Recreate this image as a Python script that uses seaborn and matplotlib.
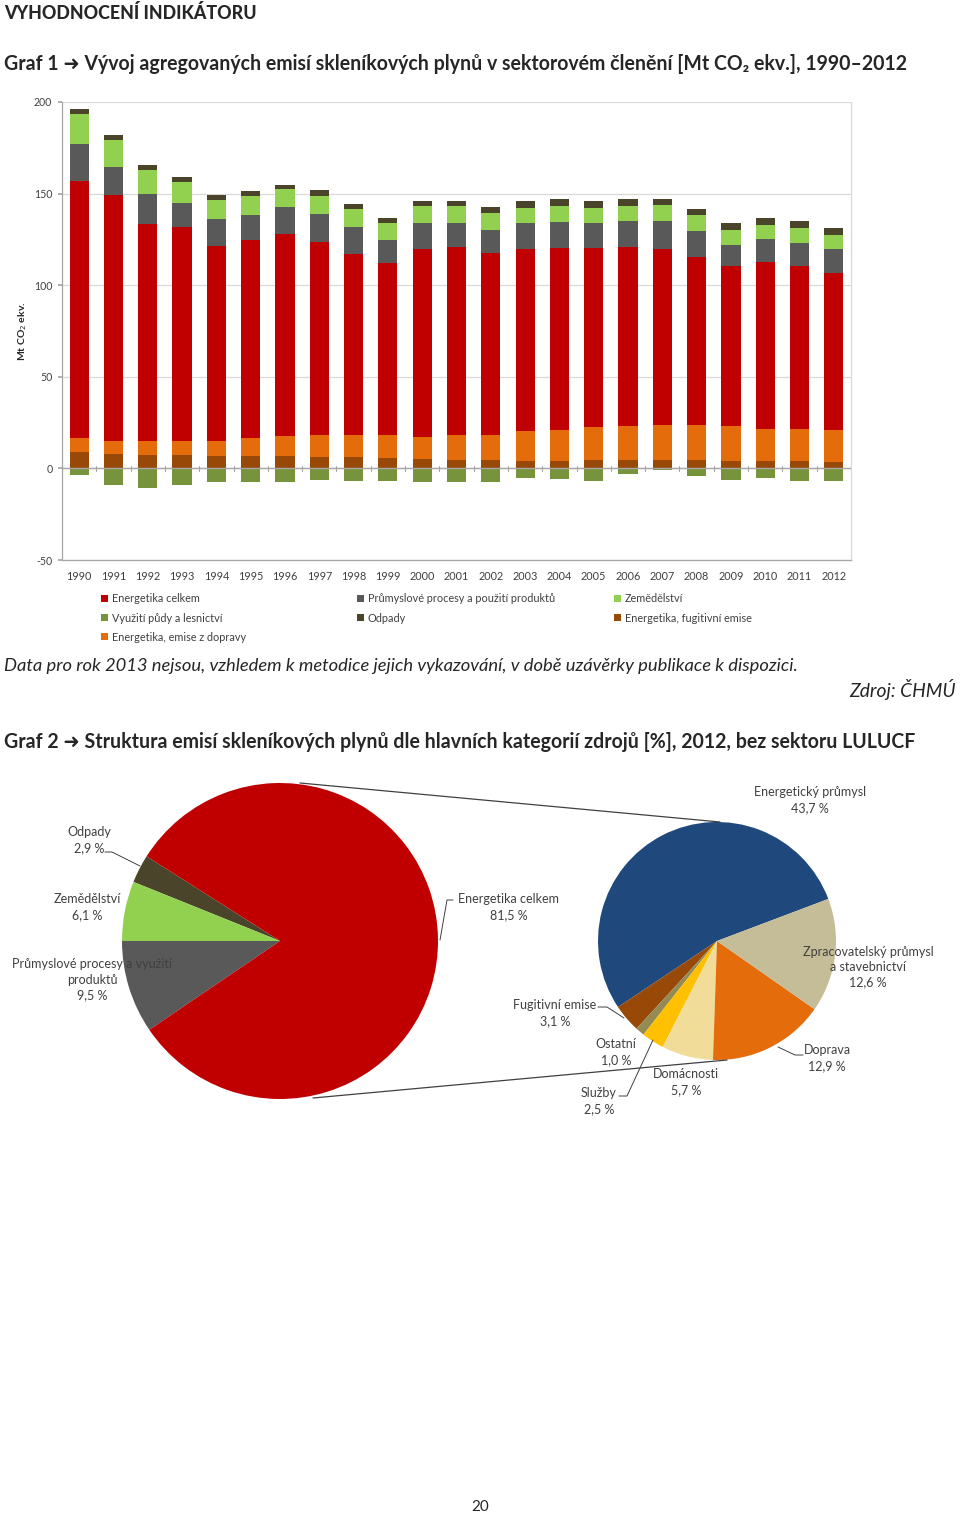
import numpy as np
import pandas as pd
import matplotlib
matplotlib.use("Agg")
import matplotlib.pyplot as plt
from matplotlib.patches import Patch
from matplotlib.lines import Line2D
import seaborn as sns

# --- Graf 1 data [Mt CO2 ekv.] ---
years = [str(y) for y in range(1990, 2013)]
energetika = [156.7, 149.5, 133.3, 131.8, 121.6, 124.5, 128.2, 123.8, 117.1, 112.2, 120.0, 120.9,
              117.6, 120.0, 120.4, 120.4, 120.9, 120.0, 115.5, 110.4, 112.7, 110.4, 106.7]
prumysl = [20.2, 15.0, 16.5, 13.3, 14.6, 13.9, 14.3, 15.1, 14.9, 12.2, 14.0, 13.1,
           12.8, 14.0, 14.3, 13.6, 14.2, 15.1, 14.1, 11.8, 12.4, 12.7, 12.8]
zemedelstvi = [16.4, 14.6, 12.9, 11.3, 10.2, 10.1, 9.9, 9.6, 9.5, 9.6, 9.1, 9.1,
               9.1, 8.4, 8.8, 8.4, 8.4, 8.5, 8.9, 8.2, 8.0, 8.2, 8.1]
odpady = [2.7, 3.1, 2.8, 2.9, 2.9, 3.0, 2.5, 3.3, 3.0, 2.9, 2.9, 2.9,
          3.2, 3.4, 3.6, 3.4, 3.4, 3.5, 3.3, 3.6, 3.8, 3.6, 3.7]
lulucf = [-3.5, -9.1, -10.5, -9.3, -7.3, -7.3, -7.5, -6.4, -6.9, -7.1, -7.3, -7.5,
          -7.3, -5.5, -5.8, -6.7, -3.1, -0.9, -4.4, -6.2, -5.3, -7.1, -7.1]
fugitivni = [9.1, 8.0, 7.3, 7.3, 6.9, 6.7, 6.7, 6.2, 6.2, 5.6, 5.1, 4.7,
             4.4, 4.0, 4.0, 4.4, 4.7, 4.5, 4.4, 4.0, 4.0, 4.0, 3.6]
doprava = [7.6, 6.7, 7.8, 7.4, 7.8, 10.0, 11.1, 12.2, 12.2, 12.4, 12.2, 13.3,
           14.1, 16.4, 16.9, 18.1, 18.4, 19.1, 19.1, 18.9, 17.5, 17.5, 17.3]

# --- Graf 2 data [%] ---
pie1_labels = ["Odpady", "Zemědělství", "Průmyslové procesy a využití\nproduktů", "Energetika celkem"]
pie1_values = [2.9, 6.1, 9.5, 81.5]
pie2_labels = ["Energetický průmysl", "Fugitivní emise", "Ostatní", "Služby", "Domácnosti",
               "Doprava", "Zpracovatelský průmysl\na stavebnictví"]
pie2_values = [43.7, 3.1, 1.0, 2.5, 5.7, 12.9, 12.6]

C_RED = "#C00000"
C_GRAY = "#595959"
C_LGREEN = "#92D050"
C_WASTE = "#4A452A"
C_LULUCF = "#77933C"
C_FUG = "#984807"
C_TRANS = "#E46C0A"
pie2_colors = ["#1F497D", "#984807", "#948A54", "#FFC000", "#F2DC99", "#E46C0A", "#C4BD97"]

sns.set_theme(style="white")
plt.rcParams["font.family"] = ["Lato", "DejaVu Sans"]

W, H = 960, 1517
fig = plt.figure(figsize=(W / 100, H / 100), dpi=100)


def px(x, y):
    return x / W, 1 - y / H


def ftext(x, y, s, **kw):
    fx, fy = px(x, y)
    fig.text(fx, fy, s, **kw)


# headings
ftext(4, 13, "VYHODNOCENÍ INDIKÁTORU", fontsize=12.8, fontweight="black", va="center")
ftext(4, 64, "Graf 1 ➜ Vývoj agregovaných emisí skleníkových plynů v sektorovém členění [Mt CO₂ ekv.], 1990–2012",
      fontsize=14.05, fontweight="bold", va="center")

# --- bar chart ---
ax = fig.add_axes([62 / W, 1 - 560 / H, (851 - 62) / W, (560 - 102) / H])
df = pd.DataFrame({"rok": years, "energetika": energetika, "prumysl": prumysl,
                   "zemedelstvi": zemedelstvi, "odpady": odpady, "lulucf": lulucf,
                   "fugitivni": fugitivni, "doprava": doprava})
df["c1"] = df["energetika"]
df["c2"] = df["c1"] + df["prumysl"]
df["c3"] = df["c2"] + df["zemedelstvi"]
df["c4"] = df["c3"] + df["odpady"]
df["s2"] = df["fugitivni"] + df["doprava"]

bw = 0.56
layers = [("c4", C_WASTE), ("c3", C_LGREEN), ("c2", C_GRAY), ("c1", C_RED),
          ("s2", C_TRANS), ("fugitivni", C_FUG), ("lulucf", C_LULUCF)]
for col, color in layers:
    sns.barplot(data=df, x="rok", y=col, order=years, color=color, saturation=1,
                width=bw, ax=ax, linewidth=0, zorder=3)

ax.set_xlim(-0.5, len(years) - 0.5)
ax.set_ylim(-50, 200)
ax.set_yticks([-50, 0, 50, 100, 150, 200])
ax.set_yticklabels(["-50", "0", "50", "100", "150", "200"])
ax.grid(axis="y", color="#D9D9D9", linewidth=0.9, zorder=0)
ax.grid(axis="x", visible=False)
ax.spines["top"].set_visible(False)
ax.spines["left"].set_color("#A6A6A6")
ax.spines["right"].set_color("#D9D9D9")
ax.spines["bottom"].set_color("#A6A6A6")
for s in ["left", "right", "bottom"]:
    ax.spines[s].set_linewidth(0.9)
ax.axhline(0, color="#A6A6A6", linewidth=1.0, zorder=4)
# category tick marks on the zero line
for i in range(len(years) + 1):
    ax.plot([i - 0.5, i - 0.5], [-1.2, 1.2], color="#A6A6A6", linewidth=0.8, zorder=4)
ax.tick_params(axis="y", labelsize=7.6, labelcolor="#404040", length=3, color="#A6A6A6",
               left=True, pad=4)
ax.tick_params(axis="x", labelsize=7.8, labelcolor="#404040", length=0, pad=8)
ax.set_xlabel("")
ax.set_ylabel("")
ftext(23, 331, "Mt CO$_2$ ekv.", fontsize=7.5, fontweight="bold", rotation=90,
      ha="center", va="center")

# legend in three columns
leg_cols = [
    (102, [("Energetika celkem", C_RED), ("Využití půdy a lesnictví", C_LULUCF),
           ("Energetika, emise z dopravy", C_TRANS)]),
    (358, [("Průmyslové procesy a použití produktů", C_GRAY), ("Odpady", C_WASTE)]),
    (615, [("Zemědělství", C_LGREEN), ("Energetika, fugitivní emise", C_FUG)]),
]
for x0, items in leg_cols:
    handles = [Patch(facecolor=c, edgecolor="none", label=l) for l, c in items]
    fig.legend(handles=handles, loc="upper left", bbox_to_anchor=px(x0 - 6, 588),
               frameon=False, fontsize=7.8, handlelength=0.6, handleheight=0.6,
               handletextpad=0.35, labelspacing=0.75, borderpad=0, labelcolor="#404040")

note = "Data pro rok 2013 nejsou, vzhledem k metodice jejich vykazování, v době uzávěrky publikace k dispozici."
ftext(4, 666, note, fontsize=13.2, style="italic", va="center")
ftext(956, 690, "Zdroj: ČHMÚ", fontsize=13.9, style="italic", va="center", ha="right")

ftext(4, 742, "Graf 2 ➜ Struktura emisí skleníkových plynů dle hlavních kategorií zdrojů [%], 2012, bez sektoru LULUCF",
      fontsize=14.05, fontweight="bold", va="center")

# --- pie 1 ---
cx1, cy1, r1 = 280, 941, 158
axp1 = fig.add_axes([(cx1 - r1) / W, 1 - (cy1 + r1) / H, 2 * r1 / W, 2 * r1 / H])
start1 = 180 - 360 * (pie1_values[0] + pie1_values[1]) / sum(pie1_values)
axp1.pie(pie1_values, colors=[C_WASTE, C_LGREEN, C_GRAY, C_RED], startangle=start1,
         counterclock=True, wedgeprops=dict(linewidth=0))
axp1.set_xlim(-1, 1)
axp1.set_ylim(-1, 1)

# --- pie 2 ---
cx2, cy2, r2 = 717, 941, 119
axp2 = fig.add_axes([(cx2 - r2) / W, 1 - (cy2 + r2) / H, 2 * r2 / W, 2 * r2 / H])
start2 = 20.7
axp2.pie(pie2_values, colors=pie2_colors, startangle=start2, counterclock=True,
         wedgeprops=dict(linewidth=0))
axp2.set_xlim(-1, 1)
axp2.set_ylim(-1, 1)


def fline(pts, **kw):
    xs = [p[0] / W for p in pts]
    ys = [1 - p[1] / H for p in pts]
    fig.add_artist(Line2D(xs, ys, transform=fig.transFigure, **kw))


# connector lines between pies
fline([(300, 783), (720, 822)], color="#404040", linewidth=0.9)
fline([(313, 1098), (727, 1060)], color="#404040", linewidth=0.9)


def fmt(v):
    return f"{v:.1f}".replace(".", ",") + " %"


lab_kw = dict(fontsize=9, color="#404040", ha="center", va="center", linespacing=1.35)
pie1_pos = {"Odpady": (89, 840), "Zemědělství": (87, 907),
            "Průmyslové procesy a využití\nproduktů": (92, 980),
            "Energetika celkem": (509, 907)}
for lab, val in zip(pie1_labels, pie1_values):
    x, y = pie1_pos[lab]
    ftext(x, y, lab + "\n" + fmt(val), **lab_kw)

pie2_pos = {"Energetický průmysl": (810, 800),
            "Fugitivní emise": (555, 1013), "Ostatní": (616, 1052),
            "Služby": (599, 1101), "Domácnosti": (686, 1082), "Doprava": (827, 1058),
            "Zpracovatelský průmysl\na stavebnictví": (868, 967)}
for lab, val in zip(pie2_labels, pie2_values):
    x, y = pie2_pos[lab]
    ftext(x, y, lab + "\n" + fmt(val), **lab_kw)

# leader lines
lk = dict(color="#404040", linewidth=0.7)
fline([(105, 852), (112, 852), (140, 866)], **lk)
fline([(453, 900), (447, 900), (440, 940)], **lk)
fline([(598, 1007), (607, 1007), (624, 1018)], **lk)
fline([(619, 1096), (627, 1096), (653, 1040)], **lk)
fline([(803, 1055), (795, 1055), (778, 1047)], **lk)

ftext(480, 1507, "20", fontsize=11, ha="center", va="center")

fig.savefig("out.png", dpi=100)
